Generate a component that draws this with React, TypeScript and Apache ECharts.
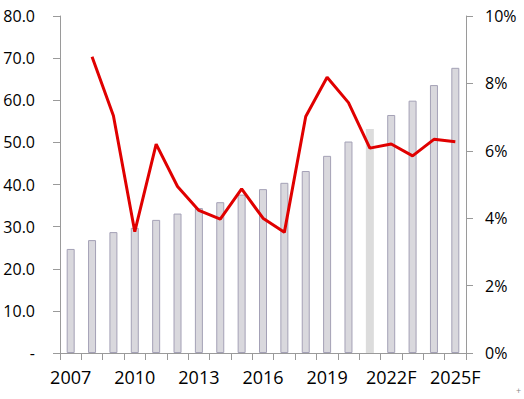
import React, { useEffect, useRef } from "react";
import * as echarts from "echarts";

const categories = [
  "2007", "2008", "2009", "2010", "2011", "2012", "2013", "2014", "2015", "2016",
  "2017", "2018", "2019", "2020", "2021", "2022F", "2023F", "2024F", "2025F",
];
const barValues = [
  24.7, 26.8, 28.7, 29.7, 31.6, 33.1, 34.4, 35.8, 37.6, 38.9,
  40.4, 43.2, 46.8, 50.2, 53.2, 56.5, 59.9, 63.6, 67.7,
];
const growthValues: (number | null)[] = [
  null, 8.79, 7.04, 3.6, 6.2, 4.94, 4.23, 3.97, 4.87, 4.0,
  3.58, 7.02, 8.18, 7.43, 6.08, 6.2, 5.85, 6.34, 6.27,
];
const noBorderIndex = 14;

export default function App() {
  const ref = useRef<HTMLDivElement>(null);
  useEffect(() => {
    if (!ref.current) return;
    const chart = echarts.init(ref.current, null, { renderer: "svg" });
    const font = "Open Sans";
    const axisColor = "#9a9a9a";
    chart.setOption({
      animation: false,
      grid: { left: 60, right: 58, top: 16, bottom: 46 },
      xAxis: {
        type: "category",
        data: categories,
        axisLine: { lineStyle: { color: axisColor, width: 1 } },
        axisTick: { show: true, interval: 0, length: 7, lineStyle: { color: axisColor } },
        axisLabel: {
          interval: 2,
          margin: 15,
          fontSize: 18,
          color: "#000",
          fontFamily: font,
          showMaxLabel: true,
        },
      },
      yAxis: [
        {
          type: "value",
          min: 0,
          max: 80,
          interval: 10,
          axisLine: { show: true, lineStyle: { color: axisColor } },
          axisTick: { show: true, length: 7, lineStyle: { color: axisColor } },
          splitLine: { show: false },
          axisLabel: {
            margin: 25,
            fontSize: 16,
            color: "#000",
            fontFamily: font,
            formatter: (v: number) => (v === 0 ? "-" : v.toFixed(1)),
          },
        },
        {
          type: "value",
          min: 0,
          max: 10,
          interval: 2,
          position: "right",
          axisLine: { show: true, lineStyle: { color: axisColor } },
          axisTick: { show: true, length: 7, lineStyle: { color: axisColor } },
          splitLine: { show: false },
          axisLabel: {
            margin: 19,
            fontSize: 16,
            color: "#000",
            fontFamily: font,
            formatter: (v: number) => v + "%",
          },
        },
      ],
      series: [
        {
          type: "bar",
          yAxisIndex: 0,
          barWidth: 8,
          data: barValues.map((v, i) =>
            i === noBorderIndex
              ? { value: v, itemStyle: { color: "#dcdcdc", borderWidth: 0 } }
              : v
          ),
          itemStyle: { color: "#d9d8dd", borderColor: "#a4a1b6", borderWidth: 1 },
        },
        {
          type: "line",
          yAxisIndex: 1,
          data: growthValues,
          showSymbol: false,
          symbol: "none",
          lineStyle: { color: "#e00000", width: 3 },
          itemStyle: { color: "#e00000" },
        },
      ],
      graphic: [
        {
          type: "text",
          left: 516,
          top: 386,
          style: { text: "+", fontSize: 9, fill: "#888", fontFamily: font },
        },
      ],
    });
    return () => chart.dispose();
  }, []);
  return (
    <div
      ref={ref}
      style={{ position: "absolute", left: 0, top: 0, width: 524, height: 399 }}
    />
  );
}
